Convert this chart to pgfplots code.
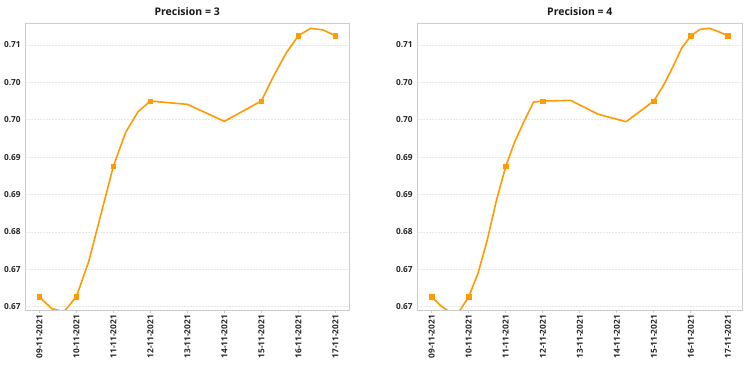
\documentclass[border=0pt]{standalone}
\usepackage{pgfplots}
\usepackage{pgfplotstable}
\pgfplotsset{compat=1.18}
\usepackage{fontspec}
\setmainfont{Open Sans}
\definecolor{lineorange}{HTML}{FF9A00}
\definecolor{framegray}{HTML}{CCCCCC}
\definecolor{gridgray}{HTML}{E6E6E6}

\pgfplotstableread{
x y
0 0.6696
0.3333 0.66768
0.6667 0.6672
1 0.6696
1.3333 0.67522
1.6667 0.68287
2 0.69053
2.3333 0.69598
2.6667 0.69928
3 0.7010
3.3333 0.70082
3.6667 0.70064
4 0.70047
4.3333 0.69956
4.6667 0.69866
5 0.69775
5.3333 0.69883
5.6667 0.69992
6 0.7010
6.3333 0.70501
6.6667 0.70865
7 0.71148
7.3333 0.71267
7.6667 0.71240
8 0.71148
}\precthree

\pgfplotstableread{
x y
0 0.6696
0.25 0.66811
0.5 0.6671
0.75 0.6673
1 0.6696
1.25 0.67336
1.5 0.67870
1.75 0.68512
2 0.69053
2.25 0.69459
2.5 0.69779
2.75 0.70083
3 0.7010
3.25 0.70103
3.5 0.70107
3.75 0.70111
4 0.70036
4.25 0.69962
4.5 0.69887
4.75 0.69847
5 0.69808
5.25 0.69768
5.5 0.69879
5.75 0.69990
6 0.7010
6.25 0.70341
6.5 0.70630
6.75 0.70946
7 0.71148
7.25 0.71250
7.5 0.71267
7.75 0.71212
8 0.71148
}\precfour

\pgfplotstableread{
x y
0 0.6696
1 0.6696
2 0.69053
3 0.7010
6 0.7010
7 0.71148
8 0.71148
}\precthreemarks

\pgfplotstableread{
x y
0 0.6696
1 0.6696
2 0.69053
3 0.7010
6 0.7010
7 0.71148
8 0.71148
}\precfourmarks

\pgfplotsset{
  precaxis/.style={
    scale only axis,
    height=287pt,
    anchor=south west,
    ymin=0.66747, ymax=0.71352,
    ytick={0.668,0.674,0.680,0.686,0.692,0.698,0.704,0.710},
    yticklabels={0.67,0.67,0.68,0.69,0.69,0.70,0.70,0.71},
    xtick={0,1,2,3,4,5,6,7,8},
    xticklabels={09-11-2021,10-11-2021,11-11-2021,12-11-2021,13-11-2021,14-11-2021,15-11-2021,16-11-2021,17-11-2021},
    x tick label style={rotate=90, anchor=east, font=\bfseries\fontsize{8.3}{9}\selectfont, text=black!85, inner sep=2pt},
    y tick label style={font=\bfseries\fontsize{8.3}{9}\selectfont, text=black!85, inner sep=1.5pt},
    axis line style={framegray, line width=0.9pt},
    tick pos=left,
    tick align=outside,
    major tick length=3pt,
    xtick style={draw=framegray, line width=0.8pt},
    ytick style={draw=none},
    ymajorgrids,
    major grid style={gridgray, line width=0.5pt, dash pattern=on 1.5pt off 1.5pt},
    title style={anchor=center, yshift=5pt, font=\bfseries\fontsize{10.5}{12}\selectfont, text=black!90},
    clip=true,
  },
  precline/.style={lineorange, line width=1.6pt, line join=round, no markers},
  precmarks/.style={only marks, mark=square*, mark size=2.2pt, mark options={solid, fill=lineorange, draw=lineorange, line width=0.4pt}},
}

\begin{document}
\begin{tikzpicture}
\useasboundingbox (0,0) rectangle (750pt,371pt);
\begin{axis}[precaxis, at={(25.3pt,61pt)}, width=323.7pt, xmin=-0.38, xmax=8.37, title={Precision = 3}]
\addplot[precline] table[x=x, y=y] {\precthree};
\addplot[precmarks] table[x=x, y=y] {\precthreemarks};
\end{axis}
\begin{axis}[precaxis, at={(417.3pt,61pt)}, width=325pt, xmin=-0.39, xmax=8.39, title={Precision = 4}]
\addplot[precline] table[x=x, y=y] {\precfour};
\addplot[precmarks] table[x=x, y=y] {\precfourmarks};
\end{axis}
\end{tikzpicture}
\end{document}
